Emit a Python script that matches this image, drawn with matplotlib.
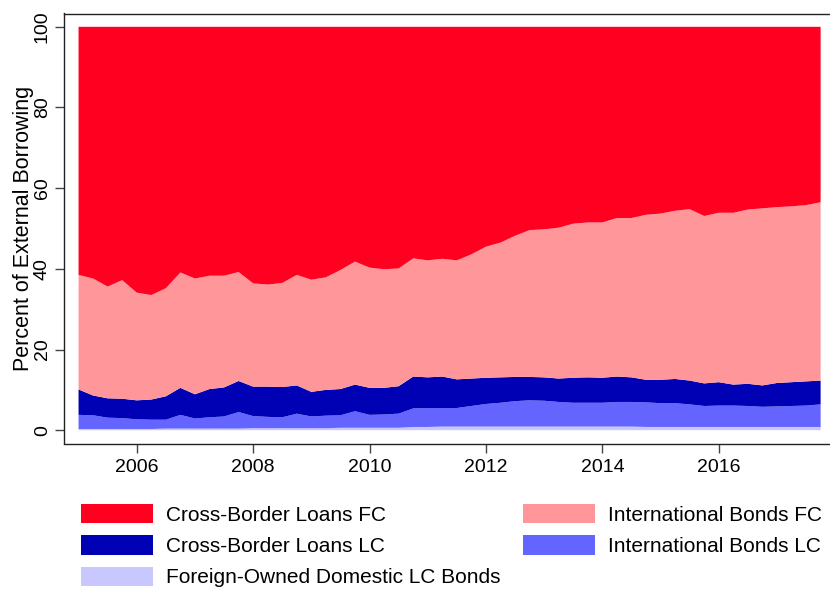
import numpy as np
import matplotlib
matplotlib.use("Agg")
import matplotlib.pyplot as plt

plt.rcParams['font.family'] = ['Liberation Sans', 'DejaVu Sans']

# quarterly shares of external borrowing (percent), 2005Q1 - 2017Q4
fod_lc_bonds = [0.3, 0.3, 0.3, 0.3, 0.3, 0.3, 0.4, 0.4, 0.4, 0.4, 0.4, 0.4, 0.5,
                0.5, 0.5, 0.5, 0.5, 0.5, 0.6, 0.6, 0.6, 0.6, 0.6, 0.8, 0.8, 0.9,
                0.9, 0.9, 0.9, 0.9, 0.9, 0.9, 0.9, 0.9, 0.9, 0.9, 0.9, 0.9, 0.9,
                0.8, 0.8, 0.8, 0.8, 0.8, 0.8, 0.8, 0.8, 0.8, 0.8, 0.8, 0.8, 0.8]
intl_bonds_lc = [3.5, 3.4, 2.8, 2.7, 2.4, 2.3, 2.2, 3.4, 2.5, 2.8, 3.0, 4.1, 3.0,
                 2.8, 2.7, 3.6, 2.9, 3.1, 3.1, 4.1, 3.2, 3.3, 3.5, 4.6, 4.7, 4.6,
                 4.6, 5.1, 5.6, 5.9, 6.3, 6.5, 6.4, 6.1, 5.9, 5.9, 5.9, 6.1, 6.1,
                 6.1, 5.9, 5.9, 5.6, 5.2, 5.3, 5.3, 5.2, 5.0, 5.1, 5.2, 5.3, 5.6]
loans_lc = [6.3, 4.9, 4.8, 4.8, 4.7, 5.0, 5.8, 6.7, 6.0, 7.0, 7.2, 7.7, 7.3,
            7.5, 7.5, 7.0, 6.1, 6.4, 6.5, 6.6, 6.7, 6.6, 6.8, 7.9, 7.6, 7.8,
            7.1, 6.8, 6.5, 6.3, 6.0, 5.8, 5.8, 5.8, 6.2, 6.3, 6.2, 6.3, 6.1,
            5.6, 5.8, 6.0, 5.9, 5.6, 5.8, 5.2, 5.5, 5.3, 5.8, 5.9, 6.0, 5.9]
intl_bonds_fc = [28.4, 29.0, 27.7, 29.4, 26.7, 25.9, 26.8, 28.6, 28.7, 28.1, 27.7, 27.0, 25.6,
                 25.3, 25.8, 27.4, 27.8, 27.9, 29.5, 30.5, 29.8, 29.4, 29.2, 29.3, 29.0, 29.2,
                 29.5, 30.8, 32.5, 33.4, 35.0, 36.4, 36.7, 37.4, 38.2, 38.4, 38.5, 39.3, 39.5,
                 40.9, 41.2, 41.7, 42.5, 41.5, 42.0, 42.6, 43.2, 43.9, 43.6, 43.6, 43.7, 44.2]
loans_fc = [61.5, 62.4, 64.4, 62.8, 65.9, 66.5, 64.8, 60.9, 62.4, 61.7, 61.7, 60.8, 63.6,
            63.9, 63.5, 61.5, 62.7, 62.1, 60.3, 58.2, 59.7, 60.1, 59.9, 57.4, 57.9, 57.5,
            57.9, 56.4, 54.5, 53.5, 51.8, 50.4, 50.2, 49.8, 48.8, 48.5, 48.5, 47.4, 47.4,
            46.6, 46.3, 45.6, 45.2, 46.9, 46.1, 46.1, 45.3, 45.0, 44.7, 44.5, 44.2, 43.5]

years = 2005 + np.arange(len(loans_fc)) * 0.25

labels = ["Foreign-Owned Domestic LC Bonds", "International Bonds LC",
          "Cross-Border Loans LC", "International Bonds FC", "Cross-Border Loans FC"]
colors = ["#c8c8ff", "#6464ff", "#0000b4", "#ff979a", "#ff0020"]

fig = plt.figure(figsize=(8.3, 5.89), dpi=100)
ax = fig.add_axes([64/830, 1 - 443.5/589, 1 - 64/830, 430/589])

polys = ax.stackplot(years, fod_lc_bonds, intl_bonds_lc, loans_lc, intl_bonds_fc, loans_fc,
                     colors=colors, labels=labels, linewidth=0)

ax.set_xlim(2004.75, 2004.75 + 766/58.2)
ax.set_ylim(-3.3, 103.3)
ax.set_xticks([2006, 2008, 2010, 2012, 2014, 2016])
ax.set_yticks([0, 20, 40, 60, 80, 100])
for lbl in ax.get_yticklabels():
    lbl.set_rotation(90)
    lbl.set_va('center')
ax.tick_params(axis='both', labelsize=14, length=6.5, width=1, color='#444444')
ax.tick_params(axis='y', pad=3)
ax.tick_params(axis='x', pad=5)
for side in ['left', 'bottom', 'top']:
    ax.spines[side].set_color('#222222')
    ax.spines[side].set_linewidth(1.0)
ax.spines['right'].set_visible(False)

ax.set_ylabel("Percent of External Borrowing", fontsize=15.5)
ax.yaxis.set_label_coords(-0.039, 0.5)

# legend: two columns, loans on the left, bonds on the right
h = {l: p for l, p in zip(labels, polys)}
order = ["Cross-Border Loans FC", "Cross-Border Loans LC", "Foreign-Owned Domestic LC Bonds",
         "International Bonds FC", "International Bonds LC"]
fig.legend([h[o] for o in order], order, loc='upper left',
           bbox_to_anchor=(81/830, 1 - 504/589), ncol=2, frameon=False,
           fontsize=15, handlelength=3.45, handleheight=1.06, handletextpad=0.62,
           columnspacing=1.1, labelspacing=0.5, borderpad=0, borderaxespad=0)

fig.savefig("out.png", dpi=100)
